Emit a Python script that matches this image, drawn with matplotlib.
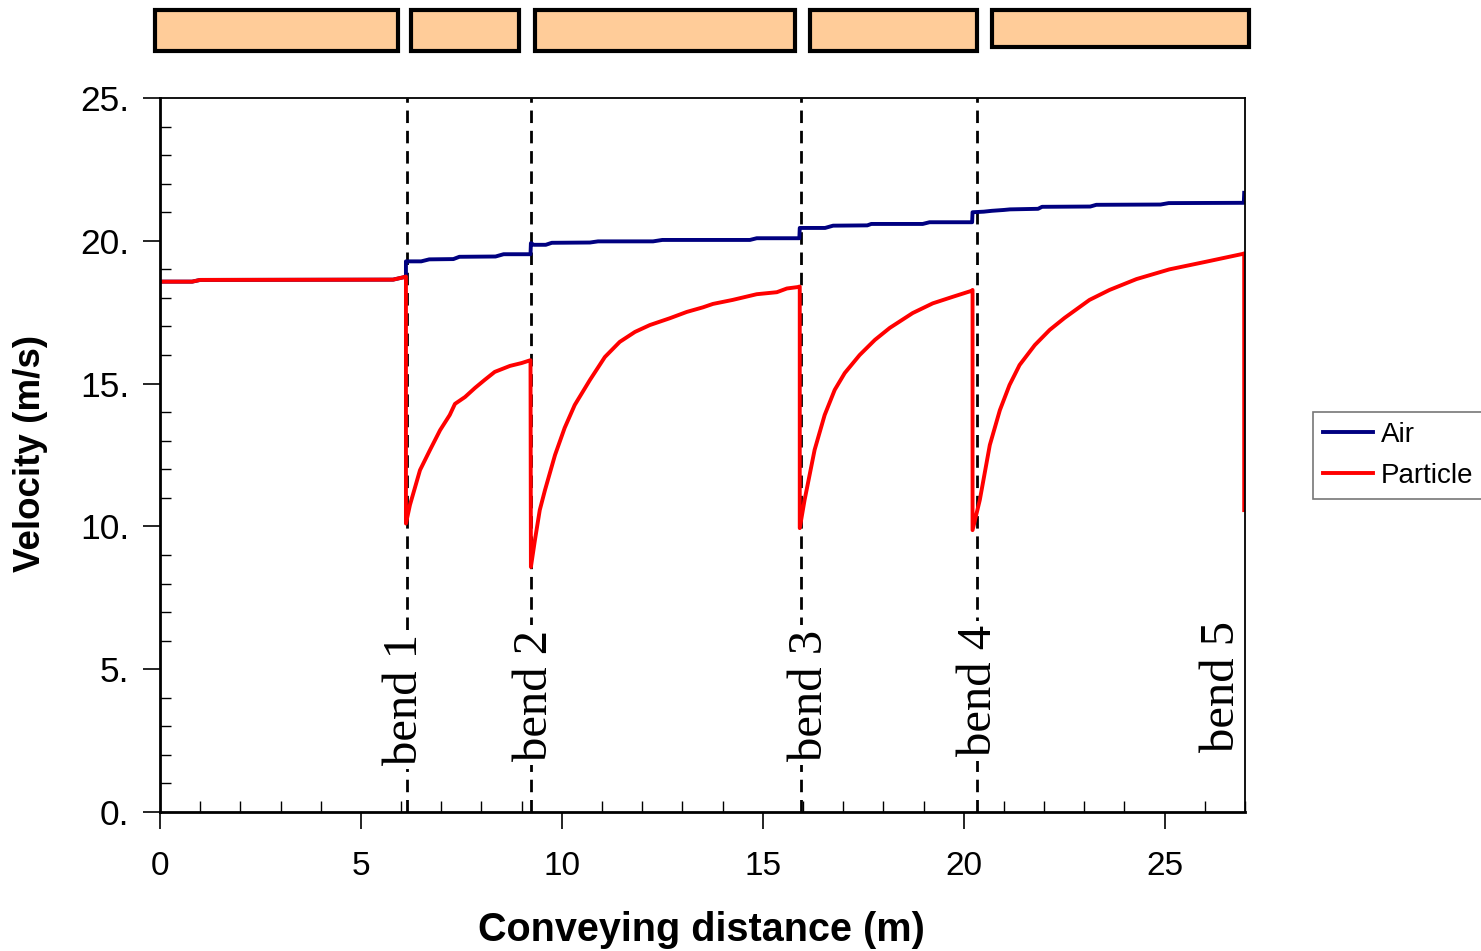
import matplotlib
matplotlib.use("Agg")
import matplotlib.pyplot as plt
from matplotlib.patches import Rectangle
from matplotlib.ticker import MultipleLocator, FuncFormatter
import matplotlib.transforms as mtransforms

# ---- data -------------------------------------------------------------
# air velocity along the pipeline (m, m/s)
air_x = [0.0, 0.8, 1.0, 5.8, 6.05, 6.12, 6.12, 6.5, 6.7, 7.3, 7.45, 8.35, 8.55,
         9.22, 9.23, 9.3, 9.6, 9.75, 10.7, 10.9, 12.27, 12.5, 14.68, 14.85,
         15.91, 15.92, 16.55, 16.75, 17.6, 17.7, 18.98, 19.15, 20.21, 20.22,
         20.5, 20.7, 21.0, 21.15, 21.85, 21.95, 23.15, 23.3, 24.9, 25.1,
         26.97, 26.98]
air_v = [18.57, 18.57, 18.63, 18.64, 18.72, 18.75, 19.28, 19.28, 19.35, 19.36,
         19.44, 19.45, 19.53, 19.53, 19.92, 19.86, 19.86, 19.93, 19.94, 19.98,
         19.98, 20.03, 20.03, 20.09, 20.09, 20.45, 20.45, 20.53, 20.54, 20.59,
         20.59, 20.65, 20.65, 21.0, 21.02, 21.05, 21.08, 21.1, 21.12, 21.19,
         21.2, 21.26, 21.27, 21.32, 21.33, 21.68]

# particle velocity along the pipeline (m, m/s)
particle_x = [0.0, 0.8, 1.0, 5.8, 6.05, 6.12, 6.12, 6.22, 6.47, 6.72, 6.97, 7.21,
              7.34, 7.59, 7.84, 8.08, 8.33, 8.71, 9.0, 9.22, 9.23, 9.33, 9.45,
              9.58, 9.83, 10.07, 10.32, 10.7, 11.07, 11.44, 11.82, 12.19, 12.69,
              13.11, 13.51, 13.76, 14.25, 14.85, 15.35, 15.6, 15.87, 15.92, 15.92,
              16.04, 16.29, 16.54, 16.79, 17.04, 17.41, 17.79, 18.16, 18.73,
              19.23, 19.73, 20.02, 20.2, 20.22, 20.22, 20.4, 20.65, 20.9, 21.14,
              21.39, 21.77, 22.14, 22.51, 23.13, 23.63, 24.3, 25.12, 26.04, 26.94,
              26.98, 26.98]
particle_v = [18.57, 18.57, 18.63, 18.64, 18.72, 18.75, 10.1, 10.75, 11.97, 12.68,
              13.37, 13.9, 14.29, 14.53, 14.85, 15.13, 15.41, 15.62, 15.72, 15.82,
              8.58, 9.52, 10.57, 11.27, 12.5, 13.45, 14.25, 15.13, 15.93, 16.46,
              16.81, 17.05, 17.29, 17.51, 17.67, 17.79, 17.93, 18.13, 18.2, 18.33,
              18.38, 18.4, 9.94, 10.92, 12.68, 13.9, 14.78, 15.37, 16.0, 16.53,
              16.95, 17.47, 17.81, 18.04, 18.17, 18.25, 18.28, 9.87, 10.92, 12.85,
              14.07, 14.95, 15.65, 16.35, 16.88, 17.3, 17.93, 18.28, 18.66, 19.0,
              19.27, 19.54, 19.56, 10.57]

# bend locations and their labels
bend_x = [6.14, 9.23, 15.95, 20.33]
bend_labels = ["bend 1", "bend 2", "bend 3", "bend 4", "bend 5"]
bend_label_x = [6.1, 9.32, 16.17, 20.39, 26.42]

# straight pipe sections shown above the chart (start, end in m)
pipe_sections = [(-0.12, 5.92), (6.24, 8.93), (9.33, 15.80), (16.17, 20.32), (20.70, 27.11)]

# ---- figure -----------------------------------------------------------
fig = plt.figure(figsize=(14.81, 9.51), dpi=100)
ax = fig.add_axes([160 / 1481, 1 - 812 / 951, 1085 / 1481, 714 / 951])

sans = "Liberation Sans"
serif = "Liberation Serif"

ax.plot(air_x, air_v, color="#000080", lw=2.8, label="Air", zorder=3)
ax.plot(particle_x, particle_v, color="#FF0000", lw=2.8, label="Particle", zorder=4)

for bx in bend_x:
    ax.axvline(bx, color="black", lw=2.0, linestyle=(0, (4.5, 2.8)), zorder=2)

label_bottom = [1.65, 1.8, 1.8, 1.95, 2.1]
for lx, lb, txt in zip(bend_label_x, label_bottom, bend_labels):
    ax.text(lx, lb, txt, rotation=90, ha="center", va="bottom",
            fontsize=35, family=serif, zorder=5,
            bbox=dict(facecolor="white", edgecolor="none", pad=3.0))

ax.set_xlim(0, 27)
ax.set_ylim(0, 25)

ax.xaxis.set_major_locator(MultipleLocator(5))
ax.xaxis.set_minor_locator(MultipleLocator(1))
ax.yaxis.set_major_locator(MultipleLocator(5))
ax.yaxis.set_minor_locator(MultipleLocator(1))
ax.yaxis.set_major_formatter(FuncFormatter(lambda v, p: f"{v:.0f}."))
ax.xaxis.set_major_formatter(FuncFormatter(lambda v, p: f"{v:.0f}"))

ax.tick_params(which="major", direction="out", length=12, width=1.2)
ax.tick_params(which="minor", direction="in", length=8, width=1.0)
ax.tick_params(axis="x", which="major", labelsize=24, pad=16)
ax.tick_params(axis="y", which="major", labelsize=25.5, pad=10)
for lab in ax.get_xticklabels() + ax.get_yticklabels():
    lab.set_family(sans)

ax.spines["left"].set_linewidth(2.0)
ax.spines["bottom"].set_linewidth(2.0)
ax.spines["top"].set_linewidth(1.3)
ax.spines["right"].set_linewidth(1.3)
for sp in ax.spines.values():
    sp.set_zorder(6)

fig.text(701 / 1481, 1 - 930 / 951, "Conveying distance (m)", ha="center",
         va="center", fontsize=28.5, fontweight="bold", family=sans)
fig.text(31 / 1481, 1 - 453 / 951, "Velocity (m/s)", ha="center", va="center",
         rotation=90, fontsize=26.5, fontweight="bold", family=sans)

# pipe sections drawn above the plotting area
trans = mtransforms.blended_transform_factory(ax.transData, ax.transAxes)
for i, (s, e) in enumerate(pipe_sections):
    y0 = 1.0714 if i == len(pipe_sections) - 1 else 1.066
    ax.add_patch(Rectangle((s, y0), e - s, 1.123 - y0, transform=trans,
                           facecolor="#FFCC99", edgecolor="black", lw=3.0,
                           clip_on=False))

leg = fig.legend(loc="upper left", bbox_to_anchor=(1313 / 1481, 1 - 412 / 951),
                 prop={"family": sans, "size": 20}, frameon=True, fancybox=False,
                 handlelength=1.8, handletextpad=0.3, borderpad=0.35,
                 labelspacing=0.55, borderaxespad=0)
leg.get_frame().set_edgecolor("#555555")
leg.get_frame().set_linewidth(1.2)

fig.savefig("out.png", dpi=100)
